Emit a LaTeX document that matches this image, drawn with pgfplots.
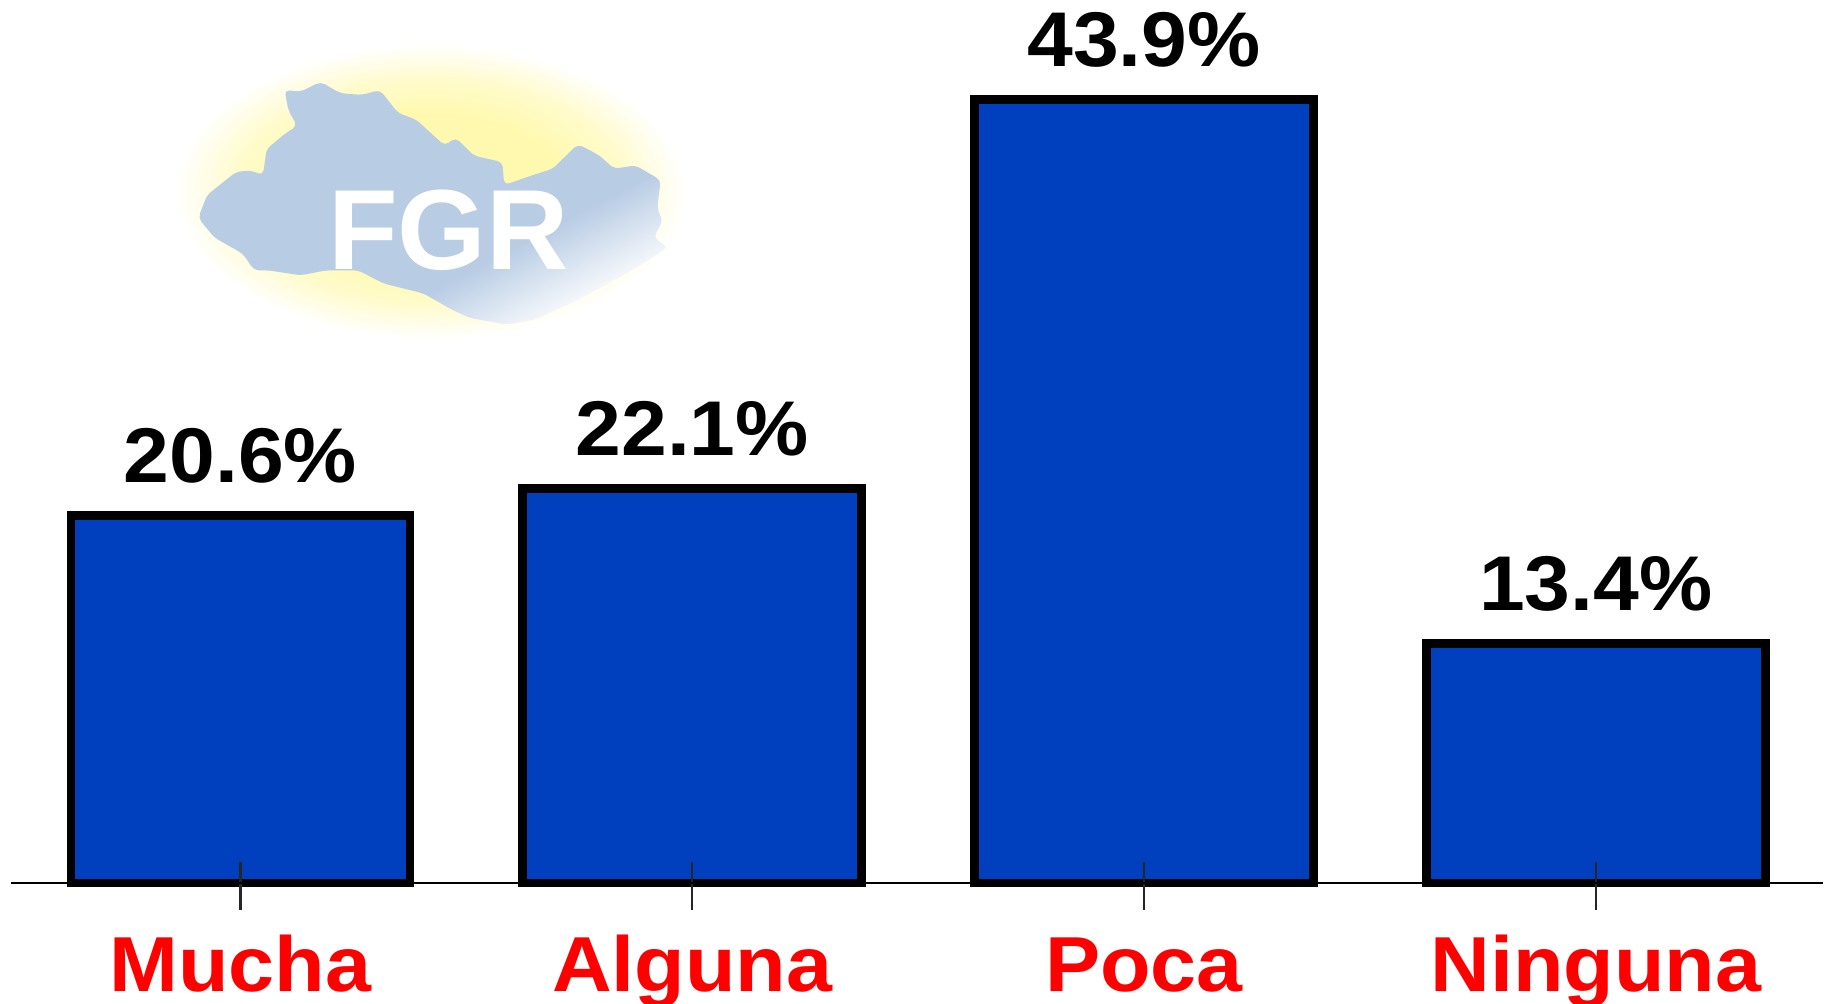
\documentclass[border=0pt]{standalone}
\usepackage{fontspec}
\setmainfont{Liberation Sans}
\usepackage{graphicx}
\usepackage{pgfplots}
\pgfplotsset{compat=1.18}
\usepackage{pgfplotstable}
\definecolor{barblue}{RGB}{0,64,191}
\definecolor{logoblue}{RGB}{184,204,228}
\definecolor{logoyellow}{RGB}{255,249,175}
\pgfdeclareradialshading{logosun}{\pgfpoint{0bp}{0bp}}{color(0bp)=(logoyellow); color(13bp)=(logoyellow); color(19bp)=(logoyellow!65!white); color(25bp)=(white); color(50bp)=(white)}
\pgfdeclarehorizontalshading{logofade}{100bp}{color(0bp)=(logoblue); color(62bp)=(logoblue); color(76bp)=(white); color(100bp)=(white)}
\newcommand\hs[1]{\scalebox{1.06}[1]{#1}}
\pgfplotstableread{
x y
0 20.6
1 22.1
2 43.9
3 13.4
}\resp
\begin{document}
\begin{tikzpicture}
\useasboundingbox (0,0) rectangle (912.5pt,502pt);
% logo (decoration), coordinates in crop pixels
\begin{scope}[shift={(73pt,489.8pt)},x=0.18pt,y=-0.164pt]
\path[shading=logosun] (790,510) ellipse [x radius=710,y radius=450];
\path[shading=logofade,shading angle=-62,rounded corners=2.5pt]
 (385,200)--(430,205)--(485,175)--(540,210)--(600,215)--(650,200)--(700,270)--(750,290)--(790,330)--(830,370)--(860,345)--(910,400)--(990,420)--(995,490)--(1060,465)--(1130,440)--(1200,365)--(1260,400)--(1300,440)--(1360,430)--(1430,475)--(1420,560)--(1435,600)--(1410,650)--(1450,680)--(1350,750)--(1200,840)--(1080,900)--(1000,915)--(900,895)--(850,870)--(770,820)--(660,790)--(590,750)--(500,750)--(430,765)--(340,750)--(300,750)--(270,700)--(190,650)--(145,590)--(170,520)--(250,450)--(290,445)--(325,460)--(335,380)--(390,330)--(420,310)--(395,260)--cycle;
\node[text=white,font=\fontsize{57pt}{57pt}\selectfont\bfseries,inner sep=0pt] at (840,628) {FGR};
\end{scope}
\begin{axis}[
  at={(5.5pt,60.5pt)},anchor=south west,
  scale only axis,width=906pt,height=441.5pt,
  xmin=-0.508,xmax=3.503,ymin=0,ymax=49.47,
  axis x line*=bottom,axis y line=none,
  axis on top=true,
  axis line style={black,line width=1.4pt},
  xtick=data,xticklabels={\hs{Mucha},\hs{Alguna},\hs{Poca},\hs{Ninguna}},
  xtick align=center,major tick length=24pt,
  tick style={black!85,line width=1.1pt,yshift=-1.5pt},
  xticklabel style={anchor=base,yshift=-42.5pt,text=red,font=\fontsize{39pt}{39pt}\selectfont\bfseries},
  clip=false,
]
\addplot[ybar,bar width=169.5pt,fill=barblue,draw=black,line width=4.4pt,
  point meta=y,
  nodes near coords={\hs{\pgfmathprintnumber[fixed,fixed zerofill,precision=1,assume math mode=true]{\pgfplotspointmeta}\%}},
  every node near coord/.append style={anchor=base,yshift=16.5pt,text=black,font=\fontsize{38.8pt}{38.8pt}\selectfont\bfseries},
] table[x=x,y=y] {\resp};
\end{axis}
\end{tikzpicture}
\end{document}
